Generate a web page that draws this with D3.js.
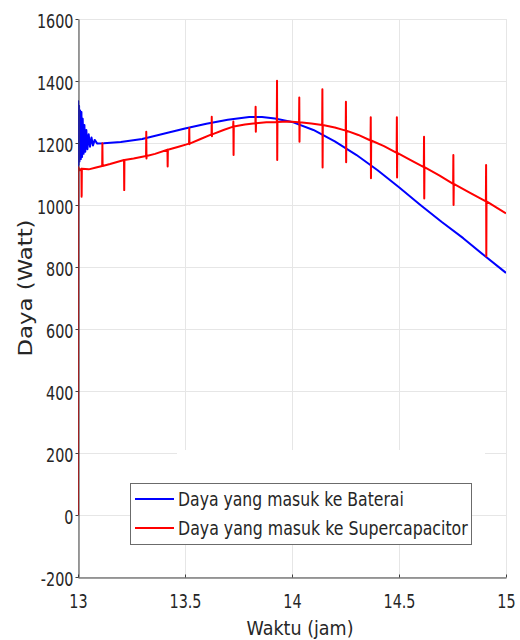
<!DOCTYPE html>
<html>
<head>
<meta charset="utf-8">
<script src="https://cdn.jsdelivr.net/npm/d3@7"></script>
<style>
  html, body { margin: 0; padding: 0; background: #fff; }
  svg { display: block; }
  text { font-family: "DejaVu Sans", sans-serif; fill: #262626; }
</style>
</head>
<body>
<div id="chart"></div>
<script>
// ---- data ----
const xTicks = [13, 13.5, 14, 14.5, 15];
const xTickLabels = ["13", "13.5", "14", "14.5", "15"];
const yTicks = [-200, 0, 200, 400, 600, 800, 1000, 1200, 1400, 1600];
const yTickLabels = ["-200", "0", "200", "400", "600", "800", "1000", "1200", "1400", "1600"];
const seriesNames = ["Daya yang masuk ke Baterai", "Daya yang masuk ke Supercapacitor"];
const seriesColors = ["#0000ff", "#ff0000"];
const xLabel = "Waktu (jam)";
const yLabel = "Daya (Watt)";

// Battery power [time (h), W]
const bateraiSeries = [
  [13.000, 0], [13.001, 1335], [13.003, 1130], [13.005, 1320], [13.007, 1140],
  [13.010, 1305], [13.013, 1148], [13.016, 1300], [13.019, 1155], [13.022, 1278],
  [13.026, 1165], [13.030, 1258], [13.034, 1172], [13.039, 1242], [13.044, 1180],
  [13.050, 1228], [13.056, 1188], [13.063, 1218], [13.070, 1192], [13.078, 1210],
  [13.090, 1198], [13.120, 1199], [13.200, 1203], [13.300, 1213], [13.400, 1230],
  [13.500, 1247], [13.600, 1262], [13.700, 1275], [13.800, 1284], [13.860, 1284],
  [13.920, 1279], [14.000, 1268], [14.100, 1242], [14.200, 1205], [14.300, 1162],
  [14.400, 1112], [14.500, 1057], [14.600, 1000], [14.700, 945], [14.800, 893],
  [14.900, 836], [15.000, 781]
];

// Supercapacitor power [time (h), W] (with switching spikes)
const supercapSeries = [
  [13.000, 0], [13.001, 1122], [13.008, 1112], [13.016, 1117], [13.017, 1027], [13.018, 1117],
  [13.050, 1115], [13.080, 1120], [13.113, 1126], [13.114, 1199], [13.115, 1126],
  [13.150, 1132], [13.215, 1145], [13.216, 1048], [13.217, 1145],
  [13.260, 1150], [13.318, 1158], [13.319, 1236], [13.320, 1150], [13.321, 1158],
  [13.360, 1165], [13.418, 1178], [13.419, 1124], [13.420, 1178],
  [13.470, 1188], [13.519, 1198], [13.520, 1248], [13.521, 1196], [13.522, 1198],
  [13.570, 1212], [13.624, 1228], [13.625, 1285], [13.626, 1222], [13.627, 1228],
  [13.680, 1242], [13.725, 1253], [13.726, 1269], [13.727, 1161], [13.728, 1253],
  [13.780, 1260], [13.829, 1264], [13.830, 1317], [13.831, 1236], [13.832, 1264],
  [13.880, 1267], [13.929, 1268], [13.930, 1401], [13.931, 1145], [13.932, 1268],
  [13.980, 1269], [14.033, 1267], [14.034, 1347], [14.035, 1204], [14.036, 1267],
  [14.090, 1263], [14.141, 1258], [14.142, 1373], [14.143, 1121], [14.144, 1258],
  [14.200, 1250], [14.251, 1240], [14.252, 1333], [14.253, 1138], [14.254, 1240],
  [14.310, 1226], [14.367, 1208], [14.368, 1283], [14.369, 1086], [14.370, 1208],
  [14.430, 1190], [14.489, 1168], [14.490, 1283], [14.491, 1089], [14.492, 1168],
  [14.550, 1146], [14.616, 1122], [14.617, 1220], [14.618, 1021], [14.619, 1122],
  [14.690, 1095], [14.753, 1068], [14.754, 1161], [14.755, 1000], [14.756, 1068],
  [14.830, 1040], [14.906, 1012], [14.907, 1129], [14.908, 835], [14.909, 1012],
  [14.960, 990], [15.000, 973]
];

// ---- chart ----
const W = 520, H = 640;
const plot = { left: 78, right: 506, top: 19, bottom: 577 };
const squeeze = 0.72; // horizontal compression of the reference lettering

const svg = d3.select("#chart").append("svg").attr("width", W).attr("height", H);

const x = d3.scaleLinear().domain([13, 15]).range([plot.left, plot.right]);
const y = d3.scaleLinear().domain([-200, 1600]).range([plot.bottom, plot.top]);

// grid
const grid = svg.append("g").attr("stroke", "#e6e6e6").attr("stroke-width", 1);
grid.selectAll("line.gx").data(xTicks).join("line")
  .attr("x1", d => Math.round(x(d)) + 0.5).attr("x2", d => Math.round(x(d)) + 0.5)
  .attr("y1", plot.top).attr("y2", plot.bottom);
grid.selectAll("line.gy").data(yTicks).join("line")
  .attr("y1", d => Math.round(y(d)) + 0.5).attr("y2", d => Math.round(y(d)) + 0.5)
  .attr("x1", plot.left).attr("x2", plot.right);

// white patch above legend (as in reference)
svg.append("rect").attr("x", 177).attr("y", 450).attr("width", 308).attr("height", 34).attr("fill", "#fff");

// lines
svg.append("clipPath").attr("id", "clip").append("rect")
  .attr("x", plot.left).attr("y", plot.top)
  .attr("width", plot.right - plot.left).attr("height", plot.bottom - plot.top);
const line = d3.line().x(d => x(d[0])).y(d => y(d[1]));
const lines = svg.append("g").attr("clip-path", "url(#clip)");
lines.append("path").datum(bateraiSeries).attr("d", line)
  .attr("fill", "none").attr("stroke", seriesColors[0]).attr("stroke-width", 2).attr("stroke-linejoin", "round");
lines.append("path").datum(supercapSeries).attr("d", line)
  .attr("fill", "none").attr("stroke", seriesColors[1]).attr("stroke-width", 2).attr("stroke-linejoin", "round");

// axes
const yAxis = svg.append("g").attr("transform", `translate(${plot.left + 0.5},0)`)
  .call(d3.axisLeft(y).tickValues(yTicks).tickFormat((d, i) => yTickLabels[i]).tickSize(3).tickPadding(2).tickSizeOuter(0));
const xAxis = svg.append("g").attr("transform", `translate(0,${plot.bottom + 0.5})`)
  .call(d3.axisBottom(x).tickValues(xTicks).tickFormat((d, i) => xTickLabels[i]).tickSize(-3).tickPadding(16).tickSizeOuter(0));

[yAxis, xAxis].forEach(a => {
  a.select(".domain").attr("stroke", "#404040");
  a.selectAll(".tick line").attr("stroke", "#404040");
  a.selectAll("text").attr("font-family", "DejaVu Sans, sans-serif")
    .attr("font-size", 20).attr("fill", "#262626")
    .attr("transform", `scale(${squeeze},1)`);
});
yAxis.selectAll("text").attr("dy", "0.42em").attr("x", -5 / squeeze);

// axis labels
function squeezedText(g, str, px, py, targetWidth, anchor, rotate) {
  const t = g.append("text").attr("font-size", 20).attr("text-anchor", anchor).text(str);
  const natural = t.node().getComputedTextLength();
  const s = targetWidth / natural;
  t.attr("transform", rotate
    ? `translate(${px},${py}) rotate(-90) scale(${s},1)`
    : `translate(${px},${py}) scale(${s},1)`);
  return t;
}
squeezedText(svg, xLabel, 300, 635, 107, "middle", false);
squeezedText(svg, yLabel, 32, 288, 137, "middle", true);

// legend
const lg = svg.append("g");
lg.append("rect").attr("x", 130.5).attr("y", 483.5).attr("width", 341).attr("height", 61)
  .attr("fill", "#fff").attr("stroke", "#6b6b6b").attr("stroke-width", 1);
const legendY = [499, 528];
const legendLen = [226, 290];
seriesNames.forEach((name, i) => {
  lg.append("line").attr("x1", 135).attr("x2", 174).attr("y1", legendY[i]).attr("y2", legendY[i])
    .attr("stroke", seriesColors[i]).attr("stroke-width", 2);
  squeezedText(lg, name, 178, legendY[i] + 7, legendLen[i], "start", false);
});
</script>
</body>
</html>
